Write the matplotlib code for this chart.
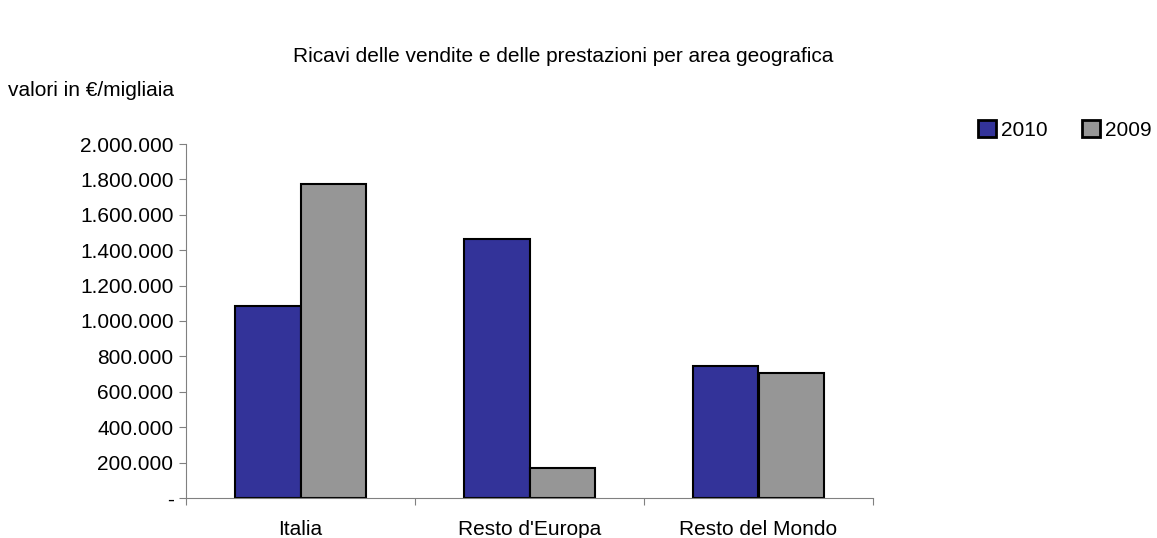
import matplotlib
matplotlib.use('Agg')
import matplotlib.pyplot as plt
import numpy as np
from matplotlib.patches import Patch
from matplotlib.ticker import FuncFormatter, FixedLocator

plt.rcParams['font.family'] = ['Liberation Sans', 'DejaVu Sans']

areas = ['Italia', "Resto d'Europa", 'Resto del Mondo']
ricavi_2010 = [1085000, 1463000, 746000]
ricavi_2009 = [1774000, 170000, 706000]
series = ['2010', '2009']
colors = ['#333399', '#969696']

FS = 15


def fmt_it(v, pos):
    if v == 0:
        return '-'
    return '{:,.0f}'.format(v).replace(',', '.')


fig = plt.figure(figsize=(11.57, 5.38), dpi=100)
ax = fig.add_axes([186 / 1157, 1 - 498 / 538, 687 / 1157, 354 / 538])

x = np.arange(len(areas))
w = 0.285
ax.bar(x - w / 2, ricavi_2010, w, color=colors[0], edgecolor='black', linewidth=1.5)
ax.bar(x + w / 2, ricavi_2009, w, color=colors[1], edgecolor='black', linewidth=1.5)

ax.set_xlim(-0.5, len(areas) - 0.5)
ax.set_ylim(0, 2000000)
ax.set_yticks(np.arange(0, 2000001, 200000))
ax.yaxis.set_major_formatter(FuncFormatter(fmt_it))
ax.xaxis.set_major_locator(FixedLocator(np.arange(-0.5, len(areas), 1)))
ax.xaxis.set_minor_locator(FixedLocator(x))
ax.set_xticklabels([])
ax.set_xticklabels(areas, minor=True)
ax.tick_params(axis='x', which='minor', length=0, labelsize=FS, pad=16)
ax.tick_params(axis='x', which='major', length=5, color='#808080')
ax.tick_params(axis='y', length=5, color='#808080', labelsize=FS, pad=4)

for s in ['top', 'right']:
    ax.spines[s].set_visible(False)
for s in ['left', 'bottom']:
    ax.spines[s].set_color('#808080')

fig.text(563 / 1157, 1 - 57 / 538, 'Ricavi delle vendite e delle prestazioni per area geografica',
         ha='center', va='center', fontsize=FS)
fig.text(8 / 1157, 1 - 90 / 538, 'valori in €/migliaia', ha='left', va='center', fontsize=FS)

handles = [Patch(facecolor=c, edgecolor='black', linewidth=2, label=l) for c, l in zip(colors, series)]
fig.legend(handles=handles, loc='center left', bbox_to_anchor=(978 / 1157, 1 - 130 / 538),
           ncol=2, frameon=False, fontsize=FS, handlelength=0.85, handleheight=0.85,
           handletextpad=0.25, columnspacing=1.65, borderaxespad=0, borderpad=0)

fig.savefig('out.png', dpi=100)
